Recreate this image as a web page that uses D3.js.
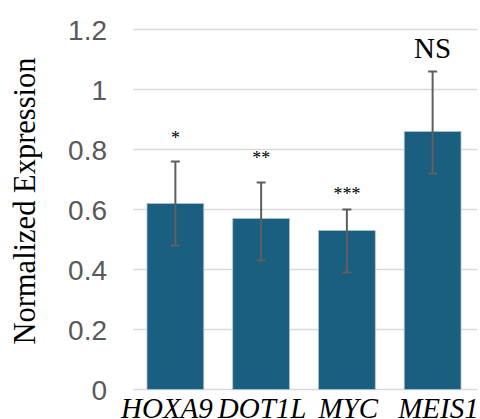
<!DOCTYPE html>
<html><head><meta charset="utf-8">
<script src="https://cdn.jsdelivr.net/npm/d3@7"></script>
<style>body{margin:0;background:#fff}svg{display:block}</style>
</head><body>
<svg id="c" width="480" height="419"></svg>
<script>
const categories = ["HOXA9", "DOT1L", "MYC", "MEIS1"];
const values = [0.62, 0.57, 0.53, 0.86];
const errLow = [0.48, 0.43, 0.39, 0.72];
const errHigh = [0.76, 0.69, 0.60, 1.06];
const sigLabels = ["*", "**", "***", "NS"];
const sigPos = [0.818, 0.752, 0.632, 1.105];
const yTicks = [0, 0.2, 0.4, 0.6, 0.8, 1, 1.2];

const svg = d3.select("#c");
const x = d3.scaleBand().domain(categories).range([132.5, 475.5]).paddingInner(0.338).paddingOuter(0.169);
const y = d3.scaleLinear().domain([0, 1.2]).range([389.5, 29.5]);

// tick labels
const yAxis = d3.axisLeft(y).tickValues(yTicks).tickFormat(d => d3.format("")(d)).tickSize(0).tickPadding(0);
const ga = svg.append("g").attr("transform", "translate(107,0)").call(yAxis);
ga.select(".domain").remove();
ga.selectAll("text").attr("font-family", "Liberation Sans, Arial, sans-serif").attr("font-size", 28).attr("fill", "#595959").attr("dy", "0.36em");

// gridlines
svg.append("g").selectAll("line").data(yTicks).join("line")
  .attr("x1", 133).attr("x2", 477)
  .attr("y1", d => y(d)).attr("y2", d => y(d))
  .attr("stroke", "#d9d9d9").attr("stroke-width", 1.5);

// bars
svg.append("g").selectAll("rect").data(categories).join("rect")
  .attr("x", d => x(d)).attr("width", x.bandwidth())
  .attr("y", (d, i) => y(values[i])).attr("height", (d, i) => y(0) - y(values[i]))
  .attr("fill", "#1a5f80").attr("stroke", "#a9c3d0").attr("stroke-width", 0.8);

// error bars
const eb = svg.append("g").attr("stroke", "#5f5f5f").attr("stroke-width", 2);
categories.forEach((c, i) => {
  const cx = x(c) + x.bandwidth() / 2;
  eb.append("line").attr("x1", cx).attr("x2", cx).attr("y1", y(errLow[i])).attr("y2", y(errHigh[i]));
  eb.append("line").attr("x1", cx - 4.5).attr("x2", cx + 4.5).attr("y1", y(errLow[i])).attr("y2", y(errLow[i]));
  eb.append("line").attr("x1", cx - 4.5).attr("x2", cx + 4.5).attr("y1", y(errHigh[i])).attr("y2", y(errHigh[i]));
});

// significance labels
svg.append("g").selectAll("text").data(categories).join("text")
  .attr("x", d => x(d) + x.bandwidth() / 2)
  .attr("y", (d, i) => y(sigPos[i]))
  .attr("text-anchor", "middle")
  .attr("font-family", "Liberation Serif, Times New Roman, serif")
  .attr("font-size", (d, i) => sigLabels[i] === "NS" ? 29 : 18)
  .attr("fill", "#000")
  .text((d, i) => sigLabels[i]);

// x labels: one text line beneath the axis, as in the original
const gaps = [0, 5, 12, 20];
svg.append("text")
  .attr("x", 121)
  .attr("y", 418)
  .attr("font-family", "Liberation Serif, Times New Roman, serif")
  .attr("font-style", "italic")
  .attr("font-size", 29)
  .attr("fill", "#000")
  .selectAll("tspan").data(categories).join("tspan")
  .attr("dx", (d, i) => gaps[i])
  .text(d => d);

// y title
svg.append("text")
  .attr("transform", "translate(35,201) rotate(-90)")
  .attr("text-anchor", "middle")
  .attr("font-family", "Liberation Serif, Times New Roman, serif")
  .attr("font-size", 30.5)
  .attr("fill", "#000")
  .text("Normalized Expression");
</script>
</body></html>
